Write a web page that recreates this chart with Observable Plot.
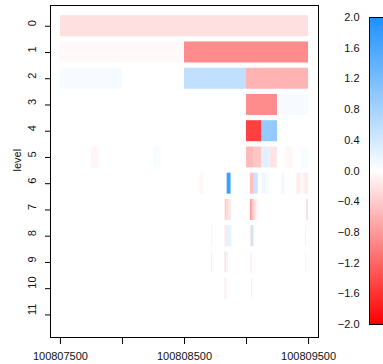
<!DOCTYPE html>
<html><head><meta charset="utf-8">
<script src="https://cdn.jsdelivr.net/npm/d3@7"></script>
<script src="https://cdn.jsdelivr.net/npm/@observablehq/plot@0.6"></script>
<style>
html,body{margin:0;padding:0;background:#fff;overflow:hidden;}
#wrap{position:relative;width:383px;height:364px;overflow:hidden;background:#fff;}
#wrap svg{position:absolute;top:0;}
</style></head><body><div id="wrap"></div>
<script>
// ---- data ----
const regionStart = 100807500;
const regionEnd = 100809500;
const levels = [0, 1, 2, 3, 4, 5, 6, 7, 8, 9, 10, 11];
const xTicks = [100807500, 100808000, 100808500, 100809000, 100809500];
const xLabeled = [100807500, 100808500, 100809500];
const colorbarTicks = [-2, -1.6, -1.2, -0.8, -0.4, 0, 0.4, 0.8, 1.2, 1.6, 2];

// Haar-style cells: level k has 2^k equal cells across the region
const cellLevel = [0,
  1, 1,
  2, 2, 2,
  3, 3,
  4, 4,
  5, 5, 5, 5, 5, 5, 5, 5,
  6, 6, 6, 6, 6, 6, 6, 6, 6, 6,
  7, 7, 7, 7, 7, 7, 7, 7,
  8, 8, 8, 8, 8, 8, 8, 8, 8, 8, 8, 8, 8,
  9, 9, 9, 9, 9, 9, 9, 9, 9, 9,
  10, 10, 10, 10, 10, 10];
const cellIndex = [0,
  0, 1,
  0, 2, 3,
  6, 7,
  12, 13,
  4, 12, 24, 25, 26, 27, 29, 31,
  36, 43, 49, 50, 52, 53, 57, 61, 62, 63,
  85, 86, 87, 98, 99, 100, 101, 127,
  156, 170, 171, 172, 173, 174, 175, 176, 196, 197, 198, 199, 253,
  312, 313, 340, 341, 344, 345, 393, 394, 395, 506,
  680, 681, 682, 688, 790, 791];
const cellValue = [-0.24,
  -0.05, -0.9,
  0.08, 0.55, -0.6,
  -0.9, 0.07,
  -1.5, 0.95,
  -0.06, 0.05, -0.55, -0.45, 0.25, -0.2, -0.07, 0.05,
  -0.07, 1.75, -0.5, 0.5, 0.15, 0.08, 0.1, -0.15, -0.07, -0.15,
  -0.4, -0.3, -0.25, -0.75, -0.5, -0.25, -0.1, -0.25,
  -0.1, -0.3, -0.2, 0.3, 0.3, 0.3, 0.3, 0.2, -0.2, 0.6, 0.5, 0.3, -0.15,
  -0.2, -0.2, -0.4, -0.4, 0.3, 0.3, -0.2, -0.2, -0.15, -0.2,
  -0.4, -0.4, -0.3, 0.3, -0.3, -0.3];

const cells = cellLevel.map((lv, i) => {
  const w = (regionEnd - regionStart) / Math.pow(2, lv);
  const x1 = regionStart + cellIndex[i] * w;
  return {level: lv, x1, x2: x1 + w, value: cellValue[i]};
});

const font = "'Liberation Sans', Arial, Helvetica, sans-serif";
const colorOpts = {type: "linear", domain: [-2, 0, 2], range: ["#ff0000", "#ffffff", "#1e90ff"], interpolate: "rgb", clamp: true};
const pad = (regionEnd - regionStart) * 0.04;

const main = Plot.plot({
  width: 330, height: 364,
  marginLeft: 50, marginRight: 12, marginTop: 5, marginBottom: 27,
  style: {fontFamily: font, fontSize: "11px", background: "transparent", overflow: "visible"},
  x: {domain: [regionStart - pad, regionEnd + pad], label: null},
  y: {domain: [11.86, -0.79], label: null},
  color: colorOpts,
  marks: [
    Plot.rect(cells, {x1: "x1", x2: "x2", y1: d => d.level - 0.4, y2: d => d.level + 0.4, fill: "value"}),
    Plot.frame({stroke: "black", strokeWidth: 1}),
    Plot.axisX({ticks: xTicks, tickSize: 7, tickPadding: 8, tickFormat: d => xLabeled.includes(d) ? String(d) : "", label: null, fontSize: 11, fill: "#111"}),
    Plot.axisY({ticks: levels, tickSize: 5, tickFormat: () => "", label: null}),
    Plot.text(levels, {y: d => d, text: d => String(d), frameAnchor: "left", dx: -18, rotate: -90, fontSize: 11, fill: "#111"}),
    Plot.text(["level"], {text: d => d, frameAnchor: "left", dx: -33, rotate: -90, fontSize: 11, fill: "#111"})
  ]
});
main.style.left = "0px";

const steps = d3.range(-2, 2, 0.02);
const bar = Plot.plot({
  width: 80, height: 364,
  marginLeft: 49, marginRight: 5, marginTop: 17, marginBottom: 40,
  style: {fontFamily: font, fontSize: "11px", background: "transparent", overflow: "visible"},
  x: {domain: [0, 1], axis: null},
  y: {domain: [-2, 2], label: null},
  color: colorOpts,
  marks: [
    Plot.rect(steps, {x1: 0, x2: 1, y1: d => d, y2: d => Math.min(2, d + 0.03), fill: d => d + 0.01}),
    Plot.frame({stroke: "black", strokeWidth: 1}),
    Plot.axisY({ticks: colorbarTicks, tickSize: 0, tickPadding: 10, tickFormat: d => d.toFixed(1).replace("-", "\u2212"), label: null, fontSize: 11, fill: "#111"})
  ]
});
bar.style.left = "320px";

const wrap = document.getElementById("wrap");
wrap.appendChild(main);
wrap.appendChild(bar);
</script>
</body></html>
